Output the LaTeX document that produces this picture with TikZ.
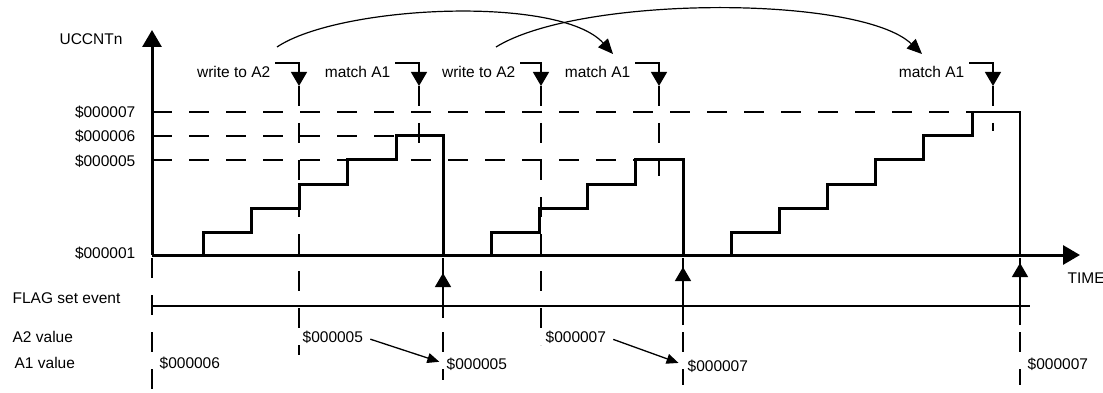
\documentclass[tikz,border=0pt]{standalone}
\usepackage{fontspec}
\setmainfont{Liberation Sans}
\usetikzlibrary{arrows.meta}
\usetikzlibrary{positioning}
\usetikzlibrary{calc}

\begin{document}
\begin{tikzpicture}[x=1pt, y=-1pt, line width=1.3pt, every node/.style={inner sep=0pt, font=\fontsize{15.5}{18}\selectfont}, stair/.style={line width=3pt}, guide/.style={dash pattern=on 20pt off 17pt}, tip/.style={-{Triangle[length=14pt, width=16pt]}}, smalltip/.style={-{Triangle[length=12pt, width=10pt]}}, bigtip/.style={line width=3pt, -{Triangle[length=17pt, width=19pt]}}]
        \useasboundingbox (0,0) rectangle (1103,393);

        \coordinate (o) at (152,255);
        \coordinate (ytop) at (152,30);
        \coordinate (xend) at (1080,255);

        \node (ylab) at (91,39) {UCCNTn};
        \node[anchor=west] (xlab) at (1067,278) {TIME};

        \node[anchor=east] (v7) at (136,112) {\$000007};
        \node[anchor=east] (v6) at (136,136) {\$000006};
        \node[anchor=east] (v5) at (136,161) {\$000005};
        \node[anchor=east] (v1) at (136,253) {\$000001};

        \node[anchor=west] (flag) at (12,298) {FLAG set event};
        \node[anchor=west] (a2lab) at (12,337) {A2 value};
        \node[anchor=west] (a1lab) at (14,363) {A1 value};

        % level lines
        \draw[guide] (152,112) -- (972,112);
        \draw[guide] (152,136) -- (396,136);
        \draw[guide] (152,160) -- (635,160);

        % events
        \node[anchor=east] (w1) at (271,72) {write to A2};
        \node[anchor=east] (m1) at (391,72) {match A1};
        \node[anchor=east] (w2) at (516,72) {write to A2};
        \node[anchor=east] (m2) at (631,72) {match A1};
        \node[anchor=east] (m3) at (965,72) {match A1};

        \coordinate (w1x) at (299,86);
        \coordinate (m1x) at (419,86);
        \coordinate (w2x) at (541,86);
        \coordinate (m2x) at (659,86);
        \coordinate (m3x) at (993,86);

        \draw[tip] ($(w1.east)+(4,-9)$) -| (w1x);
        \draw[tip] ($(m1.east)+(4,-9)$) -| (m1x);
        \draw[tip] ($(w2.east)+(4,-9)$) -| (w2x);
        \draw[tip] ($(m2.east)+(4,-9)$) -| (m2x);
        \draw[tip] ($(m3.east)+(4,-9)$) -| (m3x);

        \draw[guide] (w1x) -- (299,355);
        \draw[guide] (m1x) -- (419,145);
        \draw[guide] (w2x) -- (541,345);
        \draw[guide] (m2x) -- (659,176);
        \draw[guide] (m3x) -- (993,131);

        \coordinate (c1s) at (277,47);
        \coordinate (c1e) at (613,54);
        \coordinate (c2s) at (496,47);
        \coordinate (c2e) at (922,54);
        \draw[line width=1.2pt, -{Triangle[length=15pt, width=13pt]}] (c1s) .. controls (340,5) and (560,-5) .. (c1e);
        \draw[line width=1.2pt, -{Triangle[length=15pt, width=13pt]}] (c2s) .. controls (580,-5) and (860,-5) .. (c2e);

        % counter
        \draw[stair] (203,255) |- (251,232) |- (299,208) |- (347,184) |- (396,160) |- (443,136) -- (443,255);
        \draw[stair] (491,255) |- (539,232) |- (587,208) |- (635,184) |- (683,160) -- (683,255);
        \draw[stair] (731,255) |- (779,232) |- (827,208) |- (875,184) |- (923,160) |- (972,136) -- (972,112);
        \draw (972,112) -- (1020,112) -- (1020,255);

        \draw[bigtip] (o) -- (ytop);
        \draw[bigtip] (o) -- (xend);

        % flag events
        \draw (152,306) -- (1030,306);
        \draw[guide] (152,258) -- (152,393);
        \draw[guide] (443,258) -- (443,380);
        \draw[guide] (683,258) -- (683,385);
        \draw[guide] (1020,258) -- (1020,385);

        \coordinate (f1) at (443,273);
        \coordinate (f2) at (683,267);
        \coordinate (f3) at (1020,263);
        \draw[tip] (443,318) -- (f1);
        \draw[tip] (683,325) -- (f2);
        \draw[tip] (1020,325) -- (f3);

        % compare values
        \node[anchor=west] (a1v0) at (159,363) {\$000006};
        \node[anchor=west] (a2v1) at (302,337) {\$000005};
        \node[anchor=west] (a1v1) at (446,364) {\$000005};
        \node[anchor=west] (a2v2) at (545,337) {\$000007};
        \node[anchor=west] (a1v2) at (687,366) {\$000007};
        \node[anchor=west] (a1v3) at (1027,364) {\$000007};

        \draw[smalltip, shorten <=7pt, shorten >=7pt] (a2v1.east) -- (a1v1.west);
        \draw[smalltip, shorten <=7pt, shorten >=9pt] (a2v2.east) -- (a1v2.west);
\end{tikzpicture}
\end{document}
